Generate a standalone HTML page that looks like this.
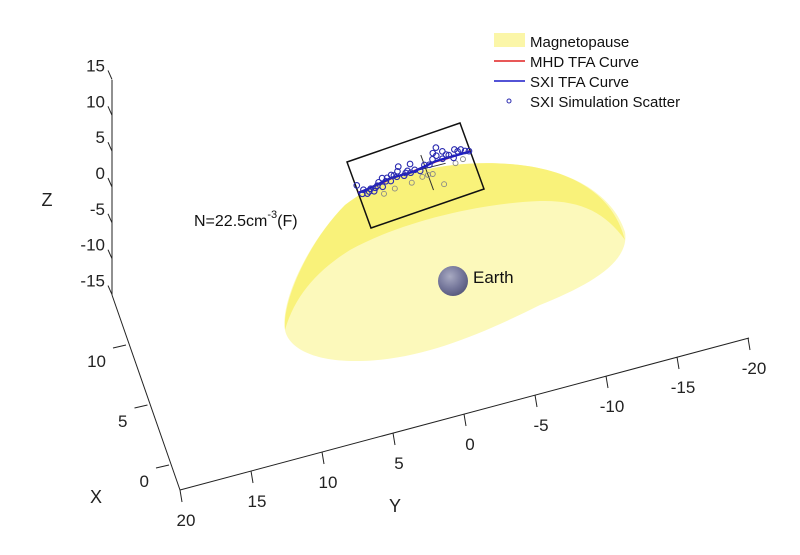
<!DOCTYPE html>
<html><head><meta charset="utf-8"><style>
html,body{margin:0;padding:0;background:#fff;}
svg{display:block;font-family:"Liberation Sans",Arial,sans-serif;}
</style></head><body>
<svg id="chart" width="800" height="555" viewBox="0 0 800 555">
  <g>
    <path fill="#fcf9bb" d="M285,330 C280,300 310,240 345,205 C390,170 460,158 520,165 C580,172 615,200 625,232 C630,262 590,285 540,305 C480,335 420,360 360,361 C310,362 288,346 285,330 Z"/>
    <path fill="#f9f27a" d="M285,330 C282,300 310,240 345,205 C390,170 460,158 520,165 C580,172 615,200 625,240 C605,212 580,200 540,201 C480,203 400,222 350,250 C318,270 295,295 285,330 Z"/>
  </g>
  <g>
    <defs><radialGradient id="eg" cx="0.4" cy="0.35" r="0.7"><stop offset="0" stop-color="#a8aac2"/><stop offset="0.6" stop-color="#74769a"/><stop offset="1" stop-color="#55577a"/></radialGradient></defs>
    <circle cx="453" cy="281" r="15" fill="url(#eg)"/>
    <text x="473" y="283" font-size="17" fill="#111">Earth</text>
  </g>
  <text x="194" y="226" font-size="16" fill="#111">N=22.5cm<tspan font-size="11" dy="-8">-3</tspan><tspan dy="8">(F)</tspan></text>
  <g id="axes"></g>
  <g id="fov"></g>
  <g font-size="15" fill="#111">
    <rect x="494" y="33" width="31" height="14" fill="#fbf6a8"/>
    <text x="530" y="47">Magnetopause</text>
    <line x1="494" y1="61" x2="525" y2="61" stroke="#e02020" stroke-width="1.5"/>
    <text x="530" y="67">MHD TFA Curve</text>
    <line x1="494" y1="81" x2="525" y2="81" stroke="#1a1ac8" stroke-width="1.5"/>
    <text x="530" y="87">SXI TFA Curve</text>
    <circle cx="509" cy="101" r="2" fill="none" stroke="#2a2ab0" stroke-width="1"/>
    <text x="530" y="107">SXI Simulation Scatter</text>
  </g>
</svg>
<script>
const zTicks=[15,10,5,0,-5,-10,-15];
const xTicks=[10,5,0];
const yTicks=[20,15,10,5,0,-5,-10,-15,-20];
const curveU=[0,0.1,0.2,0.3,0.4,0.5,0.6,0.7,0.8,0.9,1];
const sxiV=[0.47,0.46,0.44,0.42,0.43,0.44,0.42,0.40,0.41,0.42,0.43];
const mhdV=[0.46,0.46,0.45,0.43,0.43,0.43,0.42,0.41,0.42,0.42,0.42];
const scatterU=[0.01,0.03,0.05,0.07,0.09,0.11,0.13,0.15,0.17,0.19,0.21,0.23,0.25,0.27,0.29,0.31,0.33,0.35,0.37,0.39,0.41,0.43,0.45,0.47,0.49,0.51,0.55,0.6,0.64,0.68,0.7,0.72,0.74,0.76,0.78,0.8,0.82,0.85,0.88,0.9,0.93,0.96,0.99];
const scatterV=[0.36,0.5,0.45,0.52,0.5,0.47,0.52,0.48,0.46,0.42,0.5,0.38,0.44,0.4,0.46,0.38,0.4,0.43,0.36,0.3,0.45,0.42,0.4,0.44,0.32,0.42,0.46,0.4,0.42,0.36,0.28,0.33,0.22,0.4,0.3,0.36,0.38,0.44,0.33,0.37,0.36,0.4,0.42];
const grayU=[0.2,0.3,0.45,0.55,0.6,0.64,0.7,0.85,0.92];
const grayV=[0.6,0.58,0.58,0.55,0.55,0.56,0.75,0.52,0.5];
const NS='http://www.w3.org/2000/svg';
function mk(tag,attrs,parent){const e=document.createElementNS(NS,tag);for(const k in attrs)e.setAttribute(k,attrs[k]);parent.appendChild(e);return e;}
const axes=document.getElementById('axes');
function zPix(z){return 187-z*7.17;}
function xPt(x){return [169-(x-0)*4.3, 465-(x-0)*12];}
let l=mk('line',{x1:112,y1:80,x2:112,y2:295,stroke:'#222','stroke-width':1},axes);


zTicks.forEach(z=>{const y=zPix(z);
  let t=mk('line',{x1:112,y1:y,x2:108,y2:y-9,stroke:'#222','stroke-width':1},axes);
  
  
  let tx=mk('text',{x:105,y:y-8,'text-anchor':'end','font-size':17,fill:'#222'},axes);tx.textContent=z;
  
  
});
l=mk('line',{x1:112,y1:295,x2:180,y2:490,stroke:'#222','stroke-width':1},axes);


xTicks.forEach(x=>{const p=xPt(x);
  let t=mk('line',{x1:p[0],y1:p[1],x2:p[0]-13,y2:p[1]+3,stroke:'#222','stroke-width':1},axes);
  
  
  let tx=mk('text',{x:p[0]-20,y:p[1]+22,'text-anchor':'end','font-size':17,fill:'#222'},axes);tx.textContent=x;
  
  
});
l=mk('line',{x1:180,y1:490,x2:749,y2:338,stroke:'#222','stroke-width':1},axes);


yTicks.forEach(y=>{const x0=180+(20-y)*14.2, y0=490-(20-y)*3.8;
  let t=mk('line',{x1:x0,y1:y0,x2:x0+2,y2:y0+12,stroke:'#222','stroke-width':1},axes);
  
  
  let tx=mk('text',{x:x0+6,y:y0+36,'text-anchor':'middle','font-size':17,fill:'#222'},axes);tx.textContent=y;
  
  
});
[['Z',47,206,'z-axis-title'],['X',96,503,'x-axis-title'],['Y',395,512,'y-axis-title']].forEach(a=>{
  let tx=mk('text',{x:a[1],y:a[2],'text-anchor':'middle','font-size':18,fill:'#222'},axes);tx.textContent=a[0];
  
  
});
const fov=document.getElementById('fov');
const O=[347,162],U=[113,-39],V=[24,66];
function bp(u,v){return [O[0]+u*U[0]+v*V[0], O[1]+u*U[1]+v*V[1]];}
const c=[bp(0,0),bp(1,0),bp(1,1),bp(0,1)];
let b=mk('polygon',{points:c.map(p=>p.join(',')).join(' '),fill:'none',stroke:'#111','stroke-width':1.5},fov);


const cc=bp(0.6,0.45);
let ch=mk('path',{d:`M${cc[0]-20},${cc[1]+5} L${cc[0]+20},${cc[1]-5} M${bp(0.6,0.25).join(',')} L${bp(0.6,0.78).join(',')}`,stroke:'#333','stroke-width':1,fill:'none'},fov);


grayU.forEach((u,i)=>{const p=bp(u,grayV[i]);
  let e=mk('circle',{cx:p[0],cy:p[1],r:2.5,fill:'none',stroke:'#888','stroke-width':0.9},fov);
  
  
});
let mp=mk('polyline',{points:curveU.map((u,i)=>bp(u,mhdV[i]).join(',')).join(' '),fill:'none',stroke:'#e02020','stroke-width':1.5},fov);


let sp=mk('polyline',{points:curveU.map((u,i)=>bp(u,sxiV[i]).join(',')).join(' '),fill:'none',stroke:'#1a1ac8','stroke-width':2.4},fov);


scatterU.forEach((u,i)=>{const p=bp(u,scatterV[i]);
  let e=mk('circle',{cx:p[0],cy:p[1],r:2.8,fill:'none',stroke:'#2a2ab0','stroke-width':1.1},fov);
  
  
});
</script>
</body></html>
